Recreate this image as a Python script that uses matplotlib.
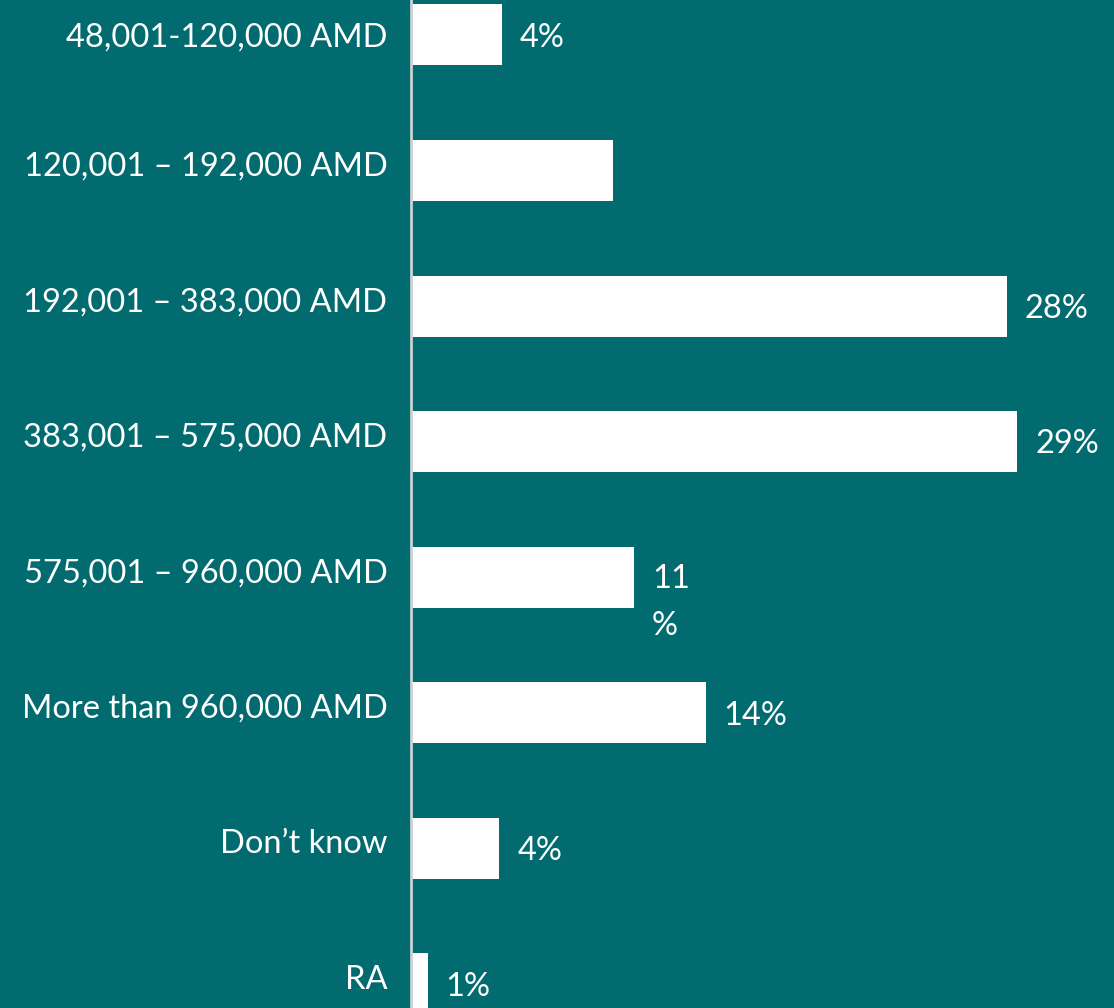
import matplotlib
matplotlib.use("Agg")
import matplotlib.pyplot as plt
from matplotlib.transforms import ScaledTranslation

# 數據
categories = [
    "48,001-120,000 AMD",
    "120,001 \u2013 192,000 AMD",
    "192,001 \u2013 383,000 AMD",
    "383,001 \u2013 575,000 AMD",
    "575,001 \u2013 960,000 AMD",
    "More than 960,000 AMD",
    "Don\u2019t know",
    "RA",
]
values = [4.3, 9.6, 28.3, 28.8, 10.6, 14.0, 4.2, 0.8]
value_labels = ["4%", "", "28%", "29%", "11\n%", "14%", "4%", "1%"]

bg = "#016B6F"
plt.rcParams['font.family'] = ['Lato', 'DejaVu Sans']

fig = plt.figure(figsize=(11.14, 10.08), dpi=100, facecolor=bg)
ax = fig.add_axes([411 / 1114, 0, 1 - 411 / 1114, 1])
ax.set_facecolor(bg)

y = list(range(len(categories)))
ax.barh(y, values, height=0.45, color="white")

ax.set_ylim(7.177, -0.258)
ax.set_xlim(0, 33.4)

ax.set_yticks(y)
ax.set_yticklabels(categories, color="white", fontsize=23.5)
ax.tick_params(axis="y", length=0, pad=17)
ax.set_xticks([])

# 類別標籤稍微上移
shift = ScaledTranslation(0, 5 / 72, fig.dpi_scale_trans)
for lbl in ax.get_yticklabels()[1:]:
    lbl.set_transform(lbl.get_transform() + shift)

for s in ["top", "right", "bottom"]:
    ax.spines[s].set_visible(False)
ax.spines["left"].set_color("#C9D3D3")
ax.spines["left"].set_linewidth(2)

for yi, v, lab in zip(y, values, value_labels):
    if not lab:
        continue
    if "\n" in lab:
        ax.text(v + 0.85, yi - 0.1, lab, color="white", fontsize=23.5,
                va="top", ha="left", linespacing=1.7)
    else:
        ax.text(v + 0.85, yi + 0.02, lab, color="white", fontsize=23.5,
                va="center", ha="left")

fig.savefig("out.png", dpi=100, facecolor=bg)
